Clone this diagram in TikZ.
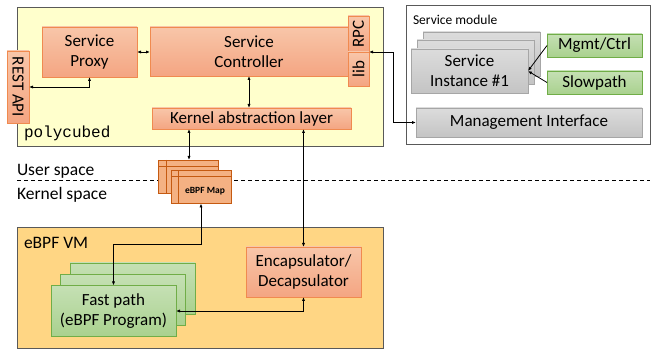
\documentclass[tikz,border=0pt]{standalone}
\usepackage{fontspec}
\setmainfont{Carlito}
\newfontfamily\monof{Liberation Mono}
\usetikzlibrary{arrows.meta,calc}
\definecolor{salT}{HTML}{F8C6A9}
\definecolor{salB}{HTML}{F4A582}
\definecolor{salD}{HTML}{F08A4F}
\definecolor{mapF}{HTML}{F4B183}
\definecolor{mapD}{HTML}{C55A11}
\definecolor{grnT}{HTML}{C5E0B4}
\definecolor{grnB}{HTML}{A9D18E}
\definecolor{grnD}{HTML}{70AD47}
\definecolor{gryT}{HTML}{DCDCDC}
\definecolor{gryB}{HTML}{C4C4C4}
\definecolor{gryD}{HTML}{A6A6A6}
\definecolor{polyF}{HTML}{FFFFCC}
\definecolor{vmF}{HTML}{FFD684}
\definecolor{frameD}{HTML}{595959}
\tikzset{
  every node/.style={inner sep=0pt, outer sep=0pt},
  frame/.style={draw=frameD, line width=0.9pt},
  boxfont/.style={font=\fontsize{17}{20}\selectfont},
  salbox/.style={draw=salD, line width=0.8pt, top color=salT, bottom color=salB, align=center, boxfont},
  grnbox/.style={draw=grnD, line width=0.8pt, top color=grnT, bottom color=grnB, align=center, boxfont},
  grybox/.style={draw=gryD, line width=0.8pt, top color=gryT, bottom color=gryB, align=center, boxfont},
  mapbox/.style={draw=mapD, line width=0.8pt, fill=mapF, minimum width=60, minimum height=33},
  conn/.style={line width=0.8pt, {Latex[length=4pt,width=3.2pt]}-{Latex[length=4pt,width=3.2pt]}},
  oneway/.style={line width=0.8pt, -{Latex[length=4pt,width=3.2pt]}},
  lbl/.style={anchor=west, font=\fontsize{17.5}{20}\selectfont}
}
\begin{document}
\begin{tikzpicture}[x=1pt,y=-1pt]
\useasboundingbox (0,0) rectangle (658,352);
% containers
\node[frame, fill=polyF, minimum width=366, minimum height=139] (poly) at (200,76.5) {};
\node[frame, fill=white, minimum width=244, minimum height=139] (smod) at (528,74.5) {};
\node[frame, fill=vmF, minimum width=366, minimum height=121] (vm) at (200,287.5) {};
% labels
\node[anchor=west, font=\monof\fontsize{16}{18}\selectfont] (polylbl) at (24,133) {polycubed};
\node[anchor=west, font=\fontsize{13.5}{15}\selectfont] (smodlbl) at (413,20) {Service module};
\node[lbl] (vmlbl) at (24,243) {eBPF VM};
\node[lbl] (user) at (17,171) {User space};
\node[lbl] (kern) at (17,195) {Kernel space};
% dashed separator
\coordinate (dl) at (17,180);
\coordinate (dr) at (650,180);
\draw[line width=0.8pt, dash pattern=on 4pt off 3pt] (dl) -- (dr);
% polycubed contents
\node[salbox, minimum width=22, minimum height=72] (rest) at (18,87) {\rotatebox{-90}{REST API}};
\node[salbox, minimum width=95, minimum height=50] (proxy) at (89.5,52) {Service\\Proxy};
\node[salbox, minimum width=198, minimum height=49] (ctrl) at (249,51.5) {Service\\Controller};
\node[salbox, minimum width=21, minimum height=36] (rpc) at (358.5,34) {\rotatebox{90}{RPC}};
\node[salbox, minimum width=21, minimum height=34] (lib) at (358.5,69) {\rotatebox{90}{lib}};
\node[salbox, minimum width=199, minimum height=21] (kal) at (251.5,118.5) {Kernel abstraction layer};
% service module contents
\node[grybox, minimum width=117, minimum height=44] (instb) at (481.5,54) {};
\node[grybox, minimum width=117, minimum height=44] (instm) at (475.5,62) {};
\node[grybox, minimum width=117, minimum height=44] (instf) at (469.5,71) {Service\\Instance \#1};
\node[grnbox, minimum width=95, minimum height=23] (mgmt) at (594.5,45.5) {Mgmt/Ctrl};
\node[grnbox, minimum width=95, minimum height=23] (slow) at (594.5,82.5) {Slowpath};
\node[grybox, minimum width=226, minimum height=29] (mi) at (529,122.5) {Management Interface};
% eBPF map
\node[mapbox] (mapb) at (188,176.5) {};
\draw[mapD, line width=0.8pt] ($(mapb.north west)+(0,6)$) -- ($(mapb.north east)+(0,6)$);
\draw[mapD, line width=0.8pt] ($(mapb.north west)+(8,0)$) -- ($(mapb.south west)+(8,0)$);
\node[mapbox] (mapf) at (201,187) {};
\draw[mapD, line width=0.8pt] ($(mapf.north west)+(0,6)$) -- ($(mapf.north east)+(0,6)$);
\draw[mapD, line width=0.8pt] ($(mapf.north west)+(7,0)$) -- ($(mapf.south west)+(7,0)$);
\node[font=\bfseries\fontsize{9.5}{11}\selectfont] (maplbl) at (205,191) {eBPF Map};
% eBPF VM contents
\node[grnbox, minimum width=125, minimum height=51] (fpb) at (132.5,288.5) {};
\node[grnbox, minimum width=125, minimum height=51] (fpm) at (123,300) {};
\node[grnbox, minimum width=125, minimum height=51] (fpf) at (113.5,311) {Fast path\\(eBPF Program)};
\node[salbox, minimum width=115, minimum height=50] (encap) at (303.5,272) {Encapsulator/\\Decapsulator};
% connectors
\draw[conn] (proxy.east) -- (proxy.east -| ctrl.west);
\draw[conn] (proxy.south) |- (rest.east);
\draw[conn] (ctrl.south) -- (ctrl.south |- kal.north);
\draw[conn] ($(kal.south -| mapb.north)+(1,0)$) -- ($(mapb.north)+(1,0)$);
\draw[conn] (kal.south -| encap.north) -- (encap.north);
\draw[conn] (mapf.south) -- ++(0,41) -| (fpf.north);
\draw[conn] (fpf.east) -| (encap.south);
\draw[conn] (rpc.south east) -- ++(24,0) |- (mi.west);
\draw[oneway] (mgmt.west) -- (instf.east);
\draw[oneway] (slow.west) -- (instf.east);
\end{tikzpicture}
\end{document}
